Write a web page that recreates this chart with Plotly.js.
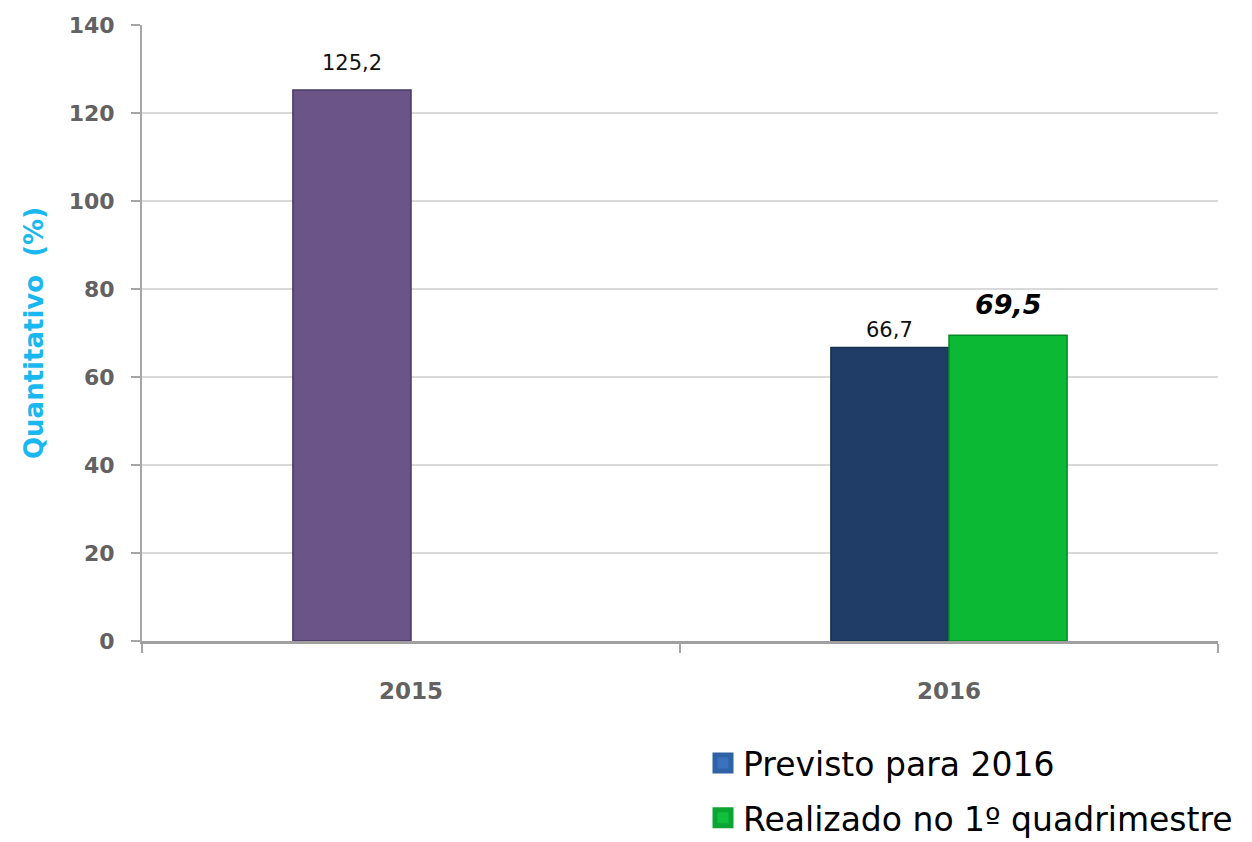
<!DOCTYPE html>
<html>
<head>
<meta charset="utf-8">
<script src="https://cdn.plot.ly/plotly-3.0.1.min.js"></script>
<style>html,body{margin:0;padding:0;background:#fff;}#chart{width:1252px;height:842px;}</style>
</head>
<body>
<div id="chart"></div>
<script>
const categories = ['2015', '2016'];
const valor2015 = [125.2, null];
const previsto = [null, 66.7];
const realizado = [null, 69.5];
const seriesNames = ['Previsto para 2016', 'Realizado no 1º quadrimestre'];
const legendColors = ['#3b72bd', '#10c03a'];
const yTicks = [0, 20, 40, 60, 80, 100, 120, 140];

const BARGAP = 0.561;
const slot = (1 - BARGAP) / 4;   // half of one bar width, in category units

const traces = [
  {
    type: 'bar', x: categories, y: valor2015, name: '2015',
    showlegend: false, offsetgroup: 'a',
    marker: {color: '#6a5488', line: {color: '#4a3a63', width: 1.5}},
    hoverinfo: 'skip'
  },
  {
    type: 'bar', x: categories, y: previsto, name: seriesNames[0],
    showlegend: false, offsetgroup: 'a',
    marker: {color: '#1f3d66', line: {color: '#16304f', width: 1.5}},
    hoverinfo: 'skip'
  },
  {
    type: 'bar', x: categories, y: realizado, name: seriesNames[1],
    showlegend: false, offsetgroup: 'b',
    marker: {color: '#0bb935', line: {color: '#078a27', width: 1.5}},
    hoverinfo: 'skip'
  },
  {
    type: 'scatter', mode: 'markers', x: [null], y: [null], name: seriesNames[0],
    legendgroup: 'g1', hoverinfo: 'skip',
    marker: {symbol: 'square', size: 16, color: legendColors[0], line: {color: '#2f62a6', width: 5}}
  },
  {
    type: 'scatter', mode: 'markers', x: [null], y: [null], name: seriesNames[1],
    legendgroup: 'g2', hoverinfo: 'skip',
    marker: {symbol: 'square', size: 16, color: legendColors[1], line: {color: '#0aa532', width: 5}}
  }
];

// value labels, placed with the axes' own coordinates
const fmt = v => v.toFixed(1).replace('.', ',');
const labelSpecs = [
  {vals: valor2015, side: -1, yshift: 13, font: {family: 'DejaVu Sans', size: 21, color: '#111'}},
  {vals: previsto, side: -1, yshift: 4, font: {family: 'DejaVu Sans', size: 21, color: '#111'}},
  {vals: realizado, side: 1, yshift: 13, font: {family: 'DejaVu Sans', size: 27, color: '#000', weight: 'bold', style: 'italic'}}
];
const annotations = [];
labelSpecs.forEach(s => {
  s.vals.forEach((v, i) => {
    if (v === null) return;
    annotations.push({
      xref: 'x', yref: 'y', x: i + s.side * slot, y: v,
      text: fmt(v), showarrow: false, xanchor: 'center', yanchor: 'bottom',
      yshift: s.yshift, font: s.font
    });
  });
});

const layout = {
  width: 1252, height: 842,
  margin: {l: 142, r: 34, t: 25, b: 201, autoexpand: false},
  paper_bgcolor: '#fff', plot_bgcolor: '#fff',
  separators: ',.',
  barmode: 'group', bargap: BARGAP, bargroupgap: 0,
  showlegend: true,
  annotations: annotations,
  legend: {
    x: 703 / 1252, xref: 'container', xanchor: 'left',
    y: 107 / 842, yref: 'container', yanchor: 'top',
    font: {family: 'DejaVu Sans', size: 33, color: '#000'},
    traceorder: 'grouped', tracegroupgap: 9,
    bgcolor: 'rgba(0,0,0,0)'
  },
  xaxis: {
    type: 'category', automargin: false,
    tickson: 'boundaries', ticks: 'outside', ticklen: 9, tickcolor: '#a6a6a6', tickwidth: 2,
    showline: true, linecolor: '#a0a0a0', linewidth: 3,
    showgrid: false, zeroline: false,
    tickfont: {family: 'DejaVu Sans', size: 23, color: '#626262', weight: 'bold'},
    ticklabelstandoff: 27
  },
  yaxis: {
    automargin: false,
    range: [0, 140], tickvals: yTicks, ticktext: yTicks.map(String),
    ticks: 'outside', ticklen: 9, tickcolor: '#a6a6a6', tickwidth: 2,
    showline: true, linecolor: '#a6a6a6', linewidth: 2,
    showgrid: true, gridcolor: '#d9d9d9', gridwidth: 1.5,
    zeroline: false,
    tickfont: {family: 'DejaVu Sans', size: 22, color: '#626262', weight: 'bold'},
    ticklabelstandoff: 12,
    title: {text: 'Quantitativo  (%)', standoff: 18,
      font: {family: 'DejaVu Sans', size: 26, color: '#1ab8f0', weight: 'bold'}}
  }
};

Plotly.newPlot('chart', traces, layout, {displayModeBar: false, staticPlot: true});
</script>
</body>
</html>
